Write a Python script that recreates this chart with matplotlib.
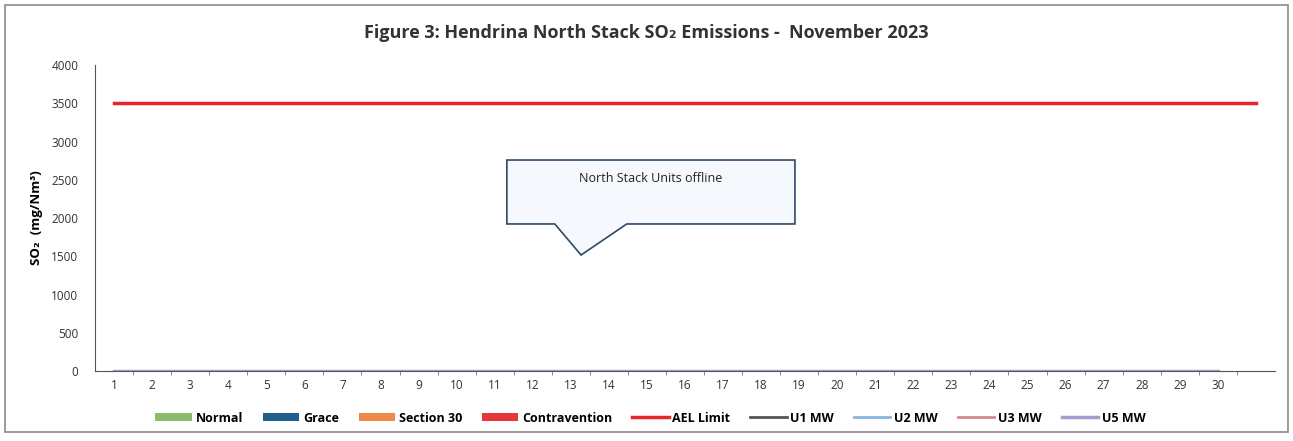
import matplotlib.pyplot as plt
from matplotlib.patches import Polygon, Rectangle

plt.rcParams['font.family'] = ['Open Sans', 'DejaVu Sans']

# data
days = list(range(1, 32))
day_labels = [str(d) for d in range(1, 31)] + ['']
ael_limit = [3500] * 31
u1_mw = [0] * 30
u2_mw = [0] * 30
u3_mw = [0] * 30
u5_mw = [0] * 30
callout_text = "North Stack Units offline"

fig = plt.figure(figsize=(12.93, 4.41), dpi=100)
ax = fig.add_axes([0.0735, 0.1587, 0.9125, 0.6939])

# outer frame of the chart object
fig.patches.append(Rectangle((0.004, 0.02), 0.992, 0.968, transform=fig.transFigure,
                             fill=False, edgecolor='#8a8a8a', linewidth=1.2))

ax.plot(days, ael_limit, color='#e8262a', linewidth=2.5, label='AEL Limit', zorder=3)
ax.plot(days[:30], u1_mw, color='#555555', linewidth=2, label='U1 MW')
ax.plot(days[:30], u2_mw, color='#8ab4e0', linewidth=2, label='U2 MW')
ax.plot(days[:30], u3_mw, color='#d08a90', linewidth=2, label='U3 MW')
ax.plot(days[:30], u5_mw, color='#a89bd0', linewidth=2.5, label='U5 MW')

# empty bar series for legend
ax.bar([0], [0], color='#8dbb6e', label='Normal')
ax.bar([0], [0], color='#1f5f8b', label='Grace')
ax.bar([0], [0], color='#ee8a4a', label='Section 30')
ax.bar([0], [0], color='#e8353a', label='Contravention')

ax.set_xlim(0.5, 31.5)
ax.set_ylim(0, 4000)
ax.set_yticks(range(0, 4001, 500))
ax.set_xticks(days)
ax.set_xticklabels(day_labels)
ax.set_xticks([d + 0.5 for d in days[:-1]], minor=True)
ax.tick_params(axis='x', which='major', length=0, labelsize=8.5, colors='#333333', pad=6)
ax.tick_params(axis='x', which='minor', length=3, color='#777777')
ax.tick_params(axis='y', length=0, labelsize=8.5, colors='#333333', pad=12)

for s in ['top', 'right']:
    ax.spines[s].set_visible(False)
ax.spines['left'].set_color('#555555')
ax.spines['bottom'].set_color('#555555')

ax.set_ylabel('SO₂  (mg/Nm³)', fontsize=9.5, fontweight='bold', labelpad=6)
fig.suptitle('Figure 3: Hendrina North Stack SO₂ Emissions -  November 2023',
             x=0.5, y=0.945, fontsize=13, fontweight='bold', color='#333333')

# callout box
box = [(11.32, 2758), (18.89, 2758), (18.89, 1922), (14.47, 1922),
       (13.27, 1516), (12.58, 1922), (11.32, 1922)]
ax.add_patch(Polygon(box, closed=True, facecolor='#f5f8fc', edgecolor='#2e4a68',
                     linewidth=1.2, zorder=4))
ax.text(15.1, 2520, callout_text, ha='center', va='center', fontsize=9,
        color='#222222', zorder=5)

handles, labels = ax.get_legend_handles_labels()
order = ['Normal', 'Grace', 'Section 30', 'Contravention', 'AEL Limit',
         'U1 MW', 'U2 MW', 'U3 MW', 'U5 MW']
hmap = dict(zip(labels, handles))
fig.legend([hmap[k] for k in order], order, loc='center', bbox_to_anchor=(0.503, 0.052),
           ncol=9, frameon=False, handlelength=2.9, handleheight=0.6,
           columnspacing=1.6, handletextpad=0.3, prop={'weight': 'bold', 'size': 9})

fig.savefig('out.png', dpi=100)
